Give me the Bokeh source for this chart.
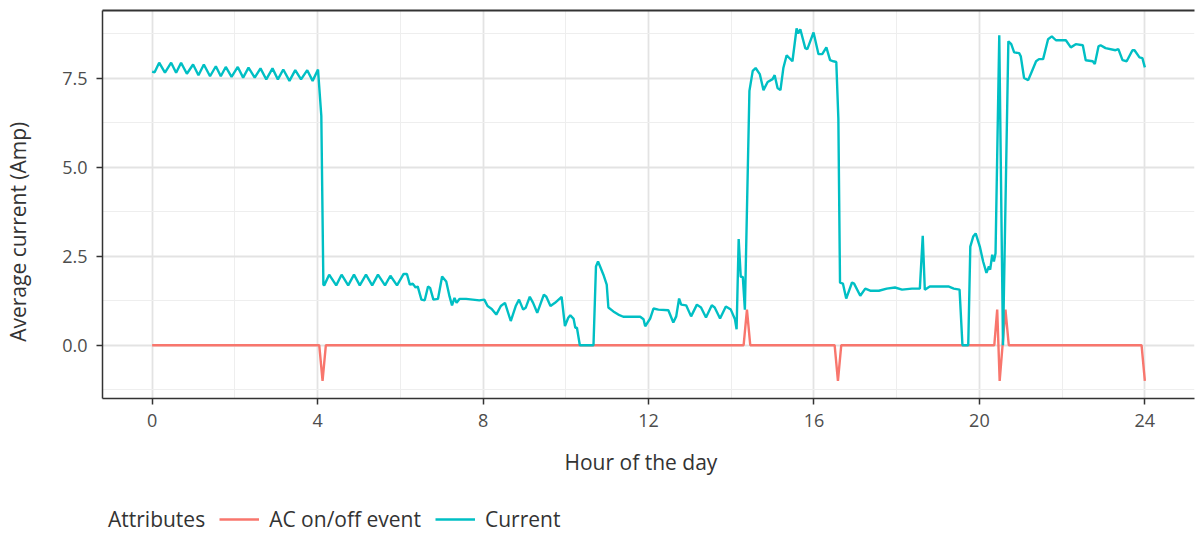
from bokeh.plotting import figure
from bokeh.layouts import column
from bokeh.models import (Range1d, FixedTicker, LinearAxis, Legend, LegendItem,
                          Title, NumeralTickFormatter)
from bokeh.embed import file_html
from bokeh.resources import INLINE

# ---------------- data ----------------
current_hour = [
    0.00, 0.06, 0.17, 0.31, 0.46, 0.58, 0.70, 0.84, 0.99, 1.12, 1.25, 1.40, 1.54, 1.66,
    1.78, 1.92, 2.07, 2.20, 2.33, 2.48, 2.62, 2.76, 2.91, 3.04, 3.17, 3.32, 3.46, 3.60,
    3.75, 3.88, 4.01, 4.09, 4.14,
    4.16, 4.28, 4.45, 4.58, 4.74, 4.88, 5.02, 5.17, 5.32, 5.46, 5.63, 5.76, 5.92, 6.08,
    6.16, 6.23, 6.30, 6.37, 6.42, 6.51, 6.59, 6.67, 6.72, 6.80, 6.91, 7.01, 7.11, 7.19,
    7.25, 7.31, 7.36, 7.43, 7.59, 7.75, 7.91, 8.03, 8.11, 8.21, 8.32, 8.43, 8.53, 8.67,
    8.79, 8.87, 8.97, 9.03, 9.13, 9.21, 9.31, 9.47, 9.53, 9.63, 9.74, 9.90, 9.98, 10.06,
    10.11, 10.19, 10.23, 10.27, 10.34, 10.67, 10.73, 10.78, 10.83, 10.91, 10.99, 11.03,
    11.15, 11.27, 11.39, 11.80, 11.88, 11.92, 12.04, 12.12, 12.24, 12.48, 12.60, 12.67,
    12.74, 12.79, 12.91, 13.03, 13.17, 13.27, 13.39, 13.53, 13.60, 13.73, 13.87, 13.99,
    14.09, 14.13, 14.18, 14.23, 14.28, 14.33, 14.44, 14.52, 14.59, 14.69, 14.78, 14.88,
    15.00, 15.05, 15.12, 15.19, 15.26, 15.34, 15.48, 15.58, 15.62, 15.67, 15.79, 15.84,
    15.99, 16.11, 16.20, 16.30, 16.39, 16.47, 16.54, 16.59, 16.63, 16.70, 16.78, 16.92,
    16.97, 17.12, 17.24, 17.36, 17.57, 17.76, 17.96, 18.13, 18.37, 18.56, 18.63, 18.68,
    18.80, 19.04, 19.25, 19.38, 19.52, 19.59, 19.73, 19.78, 19.85, 19.91, 20.01, 20.09,
    20.17, 20.23, 20.26, 20.31, 20.35, 20.39, 20.48, 20.57, 20.70, 20.77, 20.84, 20.96,
    21.00, 21.08, 21.18, 21.27, 21.37, 21.44, 21.54, 21.66, 21.75, 21.85, 22.09, 22.21,
    22.33, 22.50, 22.57, 22.74, 22.79, 22.88, 22.93, 23.05, 23.29, 23.36, 23.46, 23.56,
    23.70, 23.75, 23.87, 23.94, 24.00,
]
current_amp = [
    7.68, 7.66, 7.93, 7.65, 7.93, 7.65, 7.93, 7.62, 7.88, 7.58, 7.88, 7.55, 7.83, 7.55,
    7.81, 7.53, 7.81, 7.51, 7.79, 7.51, 7.77, 7.46, 7.77, 7.46, 7.74, 7.42, 7.72, 7.46,
    7.72, 7.42, 7.74, 6.44, 1.70,
    1.68, 1.98, 1.68, 1.98, 1.68, 1.98, 1.68, 1.98, 1.68, 1.98, 1.68, 1.95, 1.68, 2.00,
    2.00, 1.70, 1.73, 1.62, 1.65, 1.28, 1.26, 1.65, 1.61, 1.28, 1.30, 1.93, 1.79, 1.37,
    1.12, 1.33, 1.19, 1.30, 1.30, 1.28, 1.26, 1.28, 1.10, 1.02, 0.86, 1.10, 1.19, 0.68,
    1.10, 1.28, 1.00, 1.05, 1.36, 1.19, 0.91, 1.42, 1.36, 1.10, 1.19, 1.36, 0.54, 0.77,
    0.84, 0.74, 0.49, 0.49, 0.00, 0.00, 2.21, 2.35, 2.21, 1.98, 1.70, 1.06,
    0.95, 0.86, 0.80, 0.80, 0.73, 0.53, 0.75, 1.03, 1.00, 0.98, 0.64, 0.81,
    1.31, 1.14, 1.12, 0.81, 1.14, 1.06, 0.78, 1.12, 1.06, 0.75, 1.09, 1.00,
    0.73, 0.45, 2.98, 1.92, 1.92, 1.00, 7.14, 7.70, 7.78, 7.61, 7.16, 7.39,
    7.47, 7.58, 7.22, 7.16, 7.78, 8.14, 7.97, 8.89, 8.75, 8.87, 8.34, 8.31,
    8.78, 8.17, 8.17, 8.36, 8.00, 7.97, 7.95, 6.36, 1.76, 1.73, 1.31, 1.76,
    1.73, 1.39, 1.59, 1.53, 1.53, 1.59, 1.62, 1.56, 1.59, 1.59, 3.07, 1.56,
    1.65, 1.65, 1.65, 1.59, 1.56, 0.00, 0.00, 2.77, 3.05, 3.14, 2.77, 2.35,
    2.03, 2.21, 2.12, 2.54, 2.35, 2.58, 8.70, 0.00, 8.53, 8.45, 8.22, 8.20,
    8.11, 7.50, 7.44, 7.69, 7.97, 8.03, 8.03, 8.59, 8.67, 8.56, 8.56, 8.36,
    8.45, 8.42, 8.00, 7.97, 7.89, 8.39, 8.42, 8.34, 8.28, 8.31, 8.00, 7.97,
    8.28, 8.28, 8.08, 8.06, 7.80,
]
event_hour = [0.00, 4.04, 4.12, 4.20, 14.30, 14.38, 14.46, 16.50, 16.58, 16.66,
              20.36, 20.43, 20.49, 20.56, 20.63, 20.71, 23.92, 24.00]
event_value = [0, 0, -1, 0, 0, 1, 0, 0, -1, 0, 0, 1, -1, 0, 1, 0, 0, -1]

x_ticks = [0, 4, 8, 12, 16, 20, 24]
x_minor = [2, 6, 10, 14, 18, 22]
y_ticks = [0.0, 2.5, 5.0, 7.5]
y_minor = [-1.25, 1.25, 3.75, 6.25, 8.75]

series_names = ["AC on/off event", "Current"]
legend_title = "Attributes"
x_title = "Hour of the day"
y_title = "Average current (Amp)"

# ---------------- style ----------------
FONT = "Open Sans"
RED = "#F8766D"
TEAL = "#00BFC4"
DARK = "#333333"
TXT = "#4d4d4d"

p = figure(frame_width=1092, frame_height=388, output_backend="svg",
           toolbar_location=None,
           x_range=Range1d(-1.2, 25.2), y_range=Range1d(-1.495, 9.395),
           min_border_top=10, min_border_right=1, min_border_left=102,
           min_border_bottom=102)
p.outline_line_color = None
p.background_fill_color = "white"
p.border_fill_color = "white"

xt = FixedTicker(ticks=x_ticks, minor_ticks=x_minor)
yt = FixedTicker(ticks=y_ticks, minor_ticks=y_minor)
p.xaxis.ticker = xt
p.yaxis.ticker = yt
p.xgrid.ticker = xt
p.ygrid.ticker = yt
p.yaxis.formatter = NumeralTickFormatter(format="0.0")

for ax in (p.xaxis, p.yaxis):
    ax.axis_line_color = DARK
    ax.axis_line_width = 1.5
    ax.major_tick_line_color = DARK
    ax.major_tick_line_width = 1.5
    ax.major_tick_out = 6
    ax.major_tick_in = 0
    ax.minor_tick_line_color = None
    ax.major_label_text_font = FONT
    ax.major_label_text_font_size = "18px"
    ax.major_label_text_color = TXT
    ax.major_label_standoff = 9

# y title: the trailing no-break spaces move the visible words a little
# down from the frame centre, as in the reference
p.yaxis.axis_label = y_title + "\u00a0" * 10
p.yaxis.axis_label_standoff = 27
p.yaxis.axis_label_text_font = FONT
p.yaxis.axis_label_text_font_size = "21px"
p.yaxis.axis_label_text_font_style = "normal"
p.yaxis.axis_label_text_color = DARK

for g in (p.xgrid, p.ygrid):
    g.grid_line_color = "#e3e3e3"
    g.grid_line_width = 1.8
    g.minor_grid_line_color = "#eeeeee"
    g.minor_grid_line_width = 1

top = LinearAxis(ticker=FixedTicker(ticks=[]), axis_line_color=DARK,
                 axis_line_width=2, major_tick_line_color=None,
                 minor_tick_line_color=None, major_label_text_font_size="0px",
                 major_label_standoff=0, major_tick_out=0, major_tick_in=0)
p.add_layout(top, "above")

r_ev = p.line(event_hour, event_value, line_color=RED, line_width=2.4)
r_cur = p.line(current_hour, current_amp, line_color=TEAL, line_width=2.4)

p.add_layout(Title(text=x_title, align="left", offset=462, text_font=FONT,
                   text_font_size="21px", text_font_style="normal",
                   text_color=DARK, standoff=33), "below")

# ---------------- legend strip ----------------
# the same series are drawn here outside the visible range, only so that the
# legend can show their line styles
leg = figure(width=1195, height=33, output_backend="svg", toolbar_location=None,
             x_axis_location=None, y_axis_location=None,
             x_range=Range1d(100, 101), y_range=Range1d(100, 101),
             min_border_top=0, min_border_bottom=0, min_border_left=0,
             min_border_right=0)
leg.outline_line_color = None
leg.xgrid.visible = False
leg.ygrid.visible = False
l_dummy = leg.line(event_hour, event_value, line_alpha=0)
l_ev = leg.line(event_hour, event_value, line_color=RED, line_width=2.4)
l_cur = leg.line(current_hour, current_amp, line_color=TEAL, line_width=2.4)

legend = Legend(items=[LegendItem(label=legend_title, renderers=[l_dummy]),
                       LegendItem(label=series_names[0], renderers=[l_ev]),
                       LegendItem(label=series_names[1], renderers=[l_cur])],
                orientation="horizontal", location=(-44, 0), margin=0,
                padding=0, spacing=14, glyph_width=40, glyph_height=20,
                label_standoff=10, label_text_font=FONT,
                label_text_font_size="21px", label_text_color=DARK,
                border_line_color=None, background_fill_alpha=0)
leg.add_layout(legend, "center")

layout = column(p, leg, spacing=0)
open("out.html", "w").write(file_html(layout, INLINE))
